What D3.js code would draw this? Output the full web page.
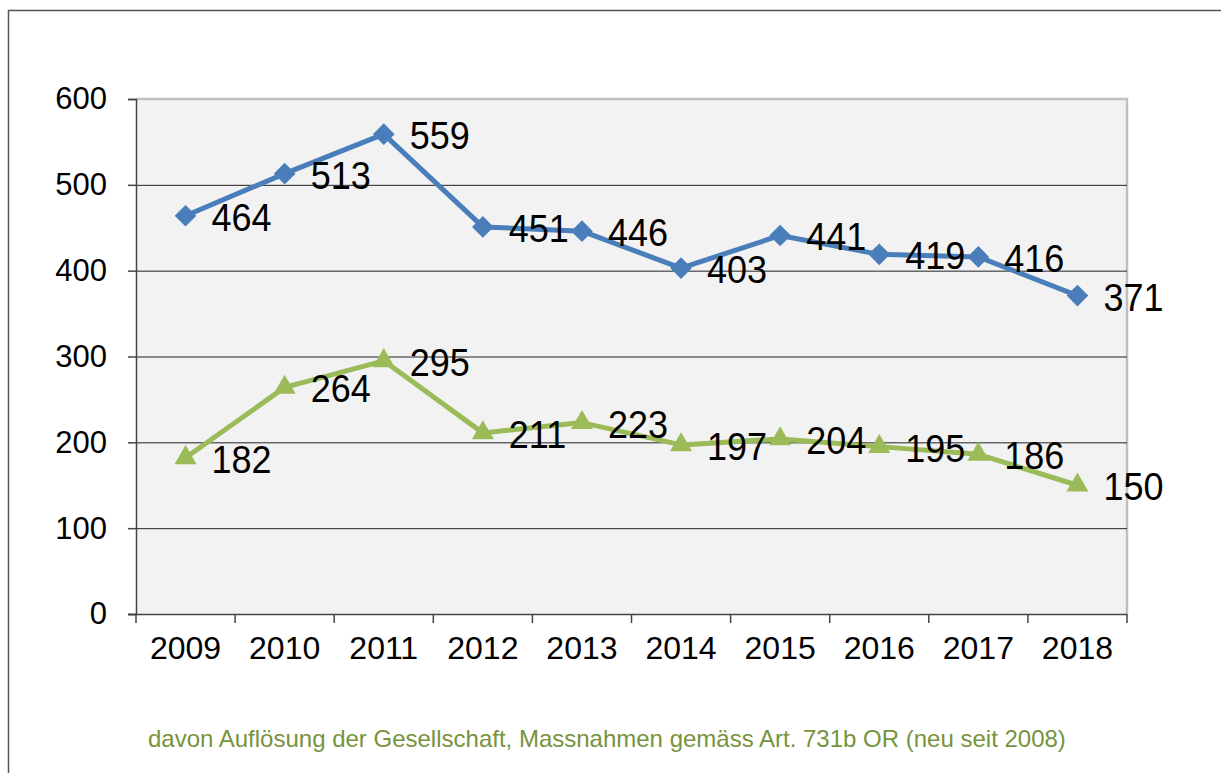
<!DOCTYPE html>
<html>
<head>
<meta charset="utf-8">
<script src="https://cdn.jsdelivr.net/npm/d3@7"></script>
<style>
  body { margin: 0; background: #fff; }
  svg { display: block; font-family: "Liberation Sans", Arial, sans-serif; }
</style>
</head>
<body>
<div id="wrapper"></div>
<script>
const years = ["2009", "2010", "2011", "2012", "2013", "2014", "2015", "2016", "2017", "2018"]
const totalValues = [464, 513, 559, 451, 446, 403, 441, 419, 416, 371]
const dissolutionValues = [182, 264, 295, 211, 223, 197, 204, 195, 186, 150]
const yTicks = [0, 100, 200, 300, 400, 500, 600]
const caption = "davon Auflösung der Gesellschaft, Massnahmen gemäss Art. 731b OR (neu seit 2008)"

const width = 1221
const height = 773
const plot = { left: 136, top: 99, right: 1127, bottom: 614 }

const svg = d3.select("#wrapper")
  .append("svg")
  .attr("width", width)
  .attr("height", height)

// outer frame (runs off the right/bottom edge)
svg.append("rect")
  .attr("x", 8.5).attr("y", 10.5)
  .attr("width", width + 20).attr("height", height + 20)
  .attr("fill", "none")
  .attr("stroke", "#555")
  .attr("stroke-width", 1.5)

const x = d3.scaleBand().domain(years).range([plot.left, plot.right])
const y = d3.scaleLinear().domain([0, 600]).range([plot.bottom, plot.top])

svg.append("rect")
  .attr("x", plot.left).attr("y", plot.top)
  .attr("width", plot.right - plot.left).attr("height", plot.bottom - plot.top)
  .attr("fill", "#f2f2f2")

// plot area top/right border
svg.append("path")
  .attr("d", `M${plot.left},${plot.top}H${plot.right}V${plot.bottom}`)
  .attr("fill", "none")
  .attr("stroke", "#c0c0c0")
  .attr("stroke-width", 2.5)

// gridlines
svg.selectAll(".grid")
  .data(yTicks.filter(d => d > 0 && d < 600))
  .enter().append("line")
  .attr("x1", plot.left).attr("x2", plot.right)
  .attr("y1", d => y(d) + 0.5).attr("y2", d => y(d) + 0.5)
  .attr("stroke", "#222")
  .attr("stroke-width", 1)

// y axis
const yAxis = svg.append("g")
  .attr("transform", `translate(${plot.left},0)`)
  .call(d3.axisLeft(y).tickValues(yTicks).tickSize(8).tickPadding(21))
yAxis.select(".domain").attr("stroke", "#444").attr("stroke-width", 1.5)
yAxis.selectAll(".tick line").attr("stroke", "#444").attr("stroke-width", 1.5)
yAxis.selectAll("text")
  .attr("font-size", 31)
  .attr("fill", "#000")
  .attr("font-family", "Liberation Sans, Arial, sans-serif")

// x axis
const xAxis = svg.append("g")
  .attr("transform", `translate(0,${plot.bottom})`)
  .call(d3.axisBottom(x).tickSize(0).tickPadding(22))
xAxis.select(".domain").attr("d", `M${plot.left - 8},0.5H${plot.right}`).attr("stroke", "#444").attr("stroke-width", 1.5)
xAxis.selectAll("text")
  .attr("font-size", 32)
  .attr("fill", "#000")
  .attr("font-family", "Liberation Sans, Arial, sans-serif")
const bounds = years.map(d => x(d)).concat([plot.right])
xAxis.selectAll(".sep")
  .data(bounds)
  .enter().append("line")
  .attr("x1", d => d).attr("x2", d => d)
  .attr("y1", 0).attr("y2", 9)
  .attr("stroke", "#444")
  .attr("stroke-width", 1.5)

const cx = d => x(d) + x.bandwidth() / 2
const line = d3.line().x(d => cx(d.year)).y(d => y(d.value))

const blue = "#4a7ebb"
const green = "#9bbb59"
const totalData = years.map((yr, i) => ({ year: yr, value: totalValues[i] }))
const dissData = years.map((yr, i) => ({ year: yr, value: dissolutionValues[i] }))

function drawSeries(data, color, symbol, size) {
  svg.append("path")
    .datum(data)
    .attr("d", line)
    .attr("fill", "none")
    .attr("stroke", color)
    .attr("stroke-width", 5)
    .attr("stroke-linejoin", "round")
  svg.selectAll(null)
    .data(data)
    .enter().append("path")
    .attr("transform", d => `translate(${cx(d.year)},${y(d.value)})`)
    .attr("d", d3.symbol().type(symbol).size(size))
    .attr("fill", color)
}

drawSeries(totalData, blue, d3.symbolDiamond2 || d3.symbolDiamond, 300)
drawSeries(dissData, green, d3.symbolTriangle, 210)

// data labels on top
function drawLabels(data) {
  svg.selectAll(null)
    .data(data)
    .enter().append("text")
    .attr("transform", d => `translate(${cx(d.year) + 26},${y(d.value) + 15}) scale(1,1.06)`)
    .attr("font-size", 36)
    .attr("fill", "#000")
    .text(d => d.value)
}
drawLabels(totalData)
drawLabels(dissData)

svg.append("text")
  .attr("x", 148)
  .attr("y", 747)
  .attr("font-size", 24)
  .attr("fill", "#77933c")
  .text(caption)
</script>
</body>
</html>
